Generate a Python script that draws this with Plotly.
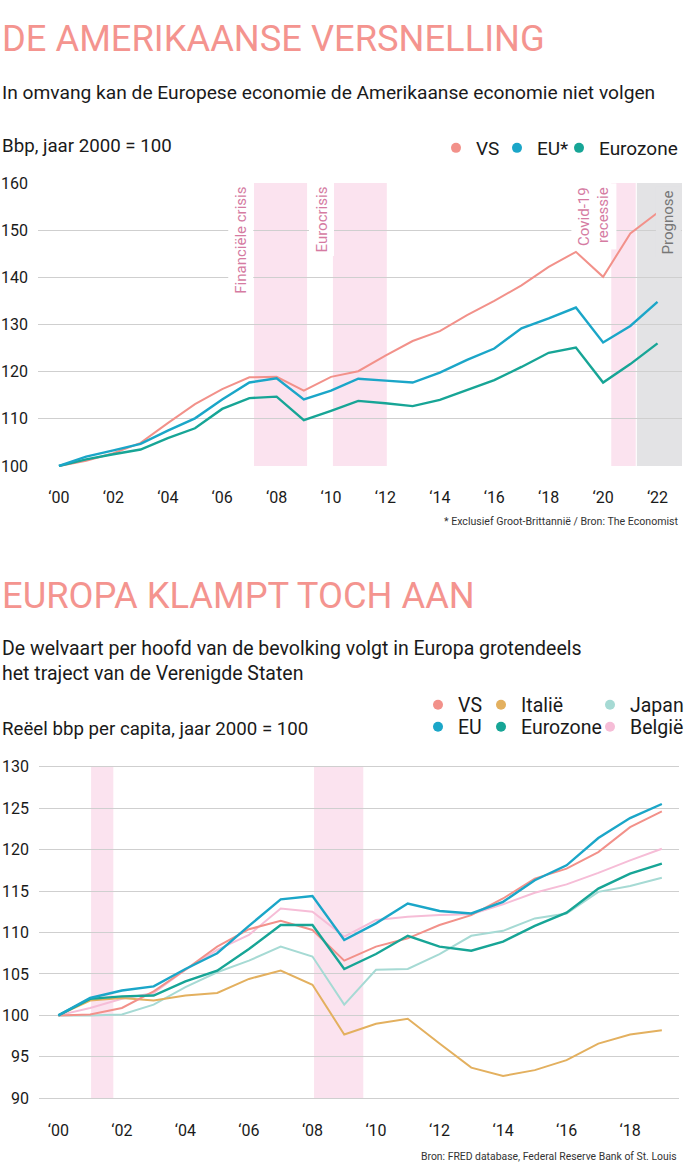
import plotly.graph_objects as go

W, H = 689, 1174

# ---------------- data: top chart ----------------
years_top = list(range(2000, 2023))
vs_top = [100, 101.1, 102.7, 104.9, 109.1, 113.1, 116.3, 118.8, 118.9, 116.0, 118.9,
          120.1, 123.4, 126.5, 128.6, 132.0, 135.0, 138.3, 142.2, 145.4, 140.1, 149.3, 153.7]
eu_top = [100, 102.0, 103.3, 104.7, 107.5, 110.1, 114.1, 117.7, 118.6, 114.1, 116.0,
          118.5, 118.1, 117.7, 119.8, 122.5, 124.9, 129.2, 131.3, 133.6, 126.2, 129.7, 134.8]
ez_top = [100, 101.4, 102.5, 103.5, 105.9, 108.0, 112.1, 114.4, 114.7, 109.7, 111.7,
          113.8, 113.3, 112.7, 114.0, 116.1, 118.2, 121.0, 124.0, 125.1, 117.7, 121.6, 126.0]
top_ticks = list(range(2000, 2023, 2))
top_ticktext = ["‘00", "‘02", "‘04", "‘06", "‘08", "‘10", "‘12", "‘14", "‘16", "‘18", "‘20", "‘22"]
top_bands = [(2007.17, 2009.12, "Financiële crisis"), (2010.07, 2012.05, "Eurocrisis"),
             (2020.3, 2021.2, "Covid-19<br>recessie")]
prognose_band = (2021.24, 2023.2)

# ---------------- data: bottom chart ----------------
years_bot = list(range(2000, 2020))
vs_bot = [100, 100.1, 100.9, 102.9, 105.5, 108.3, 110.4, 111.4, 110.3, 106.6,
          108.3, 109.3, 110.9, 112.1, 114.1, 116.5, 117.7, 119.7, 122.7, 124.6]
eu_bot = [100, 102.1, 103.0, 103.5, 105.6, 107.5, 110.8, 114.0, 114.4, 109.1,
          111.1, 113.5, 112.6, 112.3, 113.7, 116.3, 118.1, 121.4, 123.8, 125.5]
ez_bot = [100, 102.0, 102.3, 102.4, 104.1, 105.4, 108.0, 110.9, 110.9, 105.6,
          107.4, 109.6, 108.3, 107.8, 108.9, 110.8, 112.4, 115.3, 117.1, 118.3]
it_bot = [100, 101.8, 102.1, 101.8, 102.4, 102.7, 104.4, 105.4, 103.7, 97.7,
          99.0, 99.6, 96.6, 93.7, 92.7, 93.4, 94.6, 96.6, 97.7, 98.2]
jp_bot = [100, 100.0, 100.1, 101.3, 103.4, 105.2, 106.6, 108.3, 107.1, 101.3,
          105.5, 105.6, 107.4, 109.6, 110.2, 111.7, 112.3, 114.9, 115.6, 116.6]
be_bot = [100, 100.9, 102.0, 102.7, 105.5, 107.9, 109.7, 112.9, 112.5, 109.5,
          111.5, 111.9, 112.1, 112.2, 113.4, 114.8, 115.8, 117.2, 118.7, 120.1]
bot_ticks = list(range(2000, 2020, 2))
bot_ticktext = ["‘00", "‘02", "‘04", "‘06", "‘08", "‘10", "‘12", "‘14", "‘16", "‘18"]
bot_bands = [(2001.03, 2001.73), (2008.05, 2009.6)]

# ---------------- styling ----------------
C_VS = "#f2918a"
C_EU = "#1ba6c8"
C_EZ = "#17a596"
C_IT = "#e3b05f"
C_JP = "#a6dad4"
C_BE = "#f6bdd7"
C_BAND = "#fbe3ef"
C_GREY = "#e3e3e5"
C_TITLE = "#f4948f"
C_CRISIS = "#d57ba2"
C_GRID = "#cfcfcf"
FONT = "Roboto, sans-serif"


def px_x(x):
    return x / W


def px_y(y):
    return 1 - y / H


def domain_y(y_top_px, v_top, y_bot_px, v_bot, r0, r1):
    ppu = (y_bot_px - y_top_px) / (v_top - v_bot)
    top_px = y_top_px - (r1 - v_top) * ppu
    bot_px = y_bot_px + (v_bot - r0) * ppu
    return [px_y(bot_px), px_y(top_px)]


fig = go.Figure()

# top chart lines
for name, vals, col, w in [("VS", vs_top, C_VS, 2), ("Eurozone", ez_top, C_EZ, 2.4),
                           ("EU*", eu_top, C_EU, 2.4)]:
    fig.add_trace(go.Scatter(x=years_top, y=vals, mode="lines", line=dict(color=col, width=w),
                             showlegend=False, xaxis="x", yaxis="y", hoverinfo="skip"))

# bottom chart lines
for name, vals, col, w in [("België", be_bot, C_BE, 2), ("Japan", jp_bot, C_JP, 2),
                           ("Italië", it_bot, C_IT, 2), ("VS", vs_bot, C_VS, 2),
                           ("Eurozone", ez_bot, C_EZ, 2.4), ("EU", eu_bot, C_EU, 2.4)]:
    fig.add_trace(go.Scatter(x=years_bot, y=vals, mode="lines", line=dict(color=col, width=w),
                             showlegend=False, xaxis="x2", yaxis="y2", hoverinfo="skip"))


# legend entries (dots)
def legend_dot(name, col, legend, lw):
    fig.add_trace(go.Scatter(x=[None], y=[None], mode="markers", name=name,
                             marker=dict(color=col, size=10), legend=legend,
                             legendwidth=lw, xaxis="x", yaxis="y"))


legend_dot("VS", C_VS, "legend", 16)
legend_dot("EU*", C_EU, "legend", 17)
legend_dot("Eurozone", C_EZ, "legend", 80)
legend_dot("VS", C_VS, "legend2", 18)
legend_dot("Italië", C_IT, "legend2", 64)
legend_dot("Japan", C_JP, "legend2", 60)
legend_dot("EU", C_EU, "legend3", 18)
legend_dot("Eurozone", C_EZ, "legend3", 64)
legend_dot("België", C_BE, "legend3", 60)

shapes = []
for x0, x1, _ in top_bands:
    shapes.append(dict(type="rect", xref="x", yref="y", x0=x0, x1=x1, y0=100, y1=160,
                       fillcolor=C_BAND, line=dict(width=0), layer="below"))
shapes.append(dict(type="rect", xref="x", yref="y", x0=prognose_band[0], x1=prognose_band[1],
                   y0=100, y1=160, fillcolor=C_GREY, line=dict(width=0), layer="below"))
for x0, x1 in bot_bands:
    shapes.append(dict(type="rect", xref="x2", yref="y2", x0=x0, x1=x1, y0=90, y1=130,
                       fillcolor=C_BAND, line=dict(width=0), layer="below"))

annotations = []


def text(t, x, y, size, color="#1a1a1a", xanchor="left", **kw):
    annotations.append(dict(text=t, x=px_x(x), y=px_y(y), xref="paper", yref="paper",
                            xanchor=xanchor, yanchor="middle", showarrow=False,
                            font=dict(family=FONT, size=size, color=color), **kw))


text("DE AMERIKAANSE VERSNELLING", 0, 38, 36.3, C_TITLE)
text("In omvang kan de Europese economie de Amerikaanse economie niet volgen", 0, 92, 19.2)
text("Bbp, jaar 2000 = 100", 0, 146, 18.7)
text("* Exclusief Groot-Brittannië / Bron: The Economist", 681, 521, 10.6, "#333", xanchor="right")

text("EUROPA KLAMPT TOCH AAN", 0, 596, 36.3, C_TITLE)
text("De welvaart per hoofd van de bevolking volgt in Europa grotendeels<br>het traject van de Verenigde Staten",
     0, 661, 19.5, align="left")
text("Reëel bbp per capita, jaar 2000 = 100", 0, 729, 18.7)
text("Bron: FRED database, Federal Reserve Bank of St. Louis", 679, 1156, 10.4, "#333", xanchor="right")


# rotated crisis labels (top chart)
def vlabel(t, x_data, y_top_px, color, bg):
    annotations.append(dict(text=t, x=x_data, xref="x", y=px_y(y_top_px), yref="paper",
                            xanchor="center", yanchor="top", textangle=-90, showarrow=False,
                            align="right", bgcolor=bg, borderpad=3,
                            font=dict(family=FONT, size=15, color=color)))


vlabel(top_bands[0][2], 2006.7, 183, C_CRISIS, "white")
vlabel(top_bands[1][2], 2009.65, 183, C_CRISIS, "white")
vlabel(top_bands[2][2], 2019.68, 183, C_CRISIS, "white")
vlabel("Prognose", 2022.4, 186, "#777777", C_GREY)

yr_top = [99.8, 160.2]
yr_bot = [89.85, 130.15]

axis_font = dict(family=FONT, size=16, color="#1a1a1a")
leg_font = dict(family=FONT, size=19.5, color="#1a1a1a")
leg_font_top = dict(family=FONT, size=19, color="#1a1a1a")

fig.update_layout(
    width=W, height=H, margin=dict(l=0, r=0, t=0, b=0, autoexpand=False),
    paper_bgcolor="white", plot_bgcolor="white",
    xaxis=dict(domain=[px_x(38), px_x(682)], range=[1999.23, 2022.9], showgrid=False,
               zeroline=False, showline=False, tickvals=top_ticks, ticktext=top_ticktext,
               ticks="", tickfont=axis_font, ticklabelstandoff=19, anchor="y", automargin=False),
    yaxis=dict(domain=domain_y(183, 160, 466, 100, *yr_top), range=yr_top,
               tickvals=list(range(100, 161, 10)), showgrid=True, gridcolor=C_GRID, gridwidth=1,
               zeroline=False, showline=False, ticks="", tickfont=axis_font,
               ticklabelstandoff=9, anchor="x", automargin=False),
    xaxis2=dict(domain=[px_x(39), px_x(679)], range=[1999.39, 2019.54], showgrid=False,
                zeroline=False, showline=False, tickvals=bot_ticks, ticktext=bot_ticktext,
                ticks="", tickfont=axis_font, ticklabelstandoff=19, anchor="y2", automargin=False),
    yaxis2=dict(domain=domain_y(766.7, 130, 1098.3, 90, *yr_bot), range=yr_bot,
                tickvals=list(range(90, 131, 5)), showgrid=True, gridcolor=C_GRID, gridwidth=1,
                zeroline=False, showline=False, ticks="", tickfont=axis_font,
                ticklabelstandoff=9, anchor="x2", automargin=False),
    legend=dict(orientation="h", x=px_x(436), y=px_y(148), xanchor="left", yanchor="middle",
                font=leg_font_top, bgcolor="rgba(0,0,0,0)",
                entrywidthmode="pixels", tracegroupgap=0, itemwidth=30),
    legend2=dict(orientation="h", x=px_x(418), y=px_y(705), xanchor="left", yanchor="middle",
                 font=leg_font, bgcolor="rgba(0,0,0,0)",
                 entrywidthmode="pixels", itemwidth=30),
    legend3=dict(orientation="h", x=px_x(418), y=px_y(727), xanchor="left", yanchor="middle",
                 font=leg_font, bgcolor="rgba(0,0,0,0)",
                 entrywidthmode="pixels", itemwidth=30),
    shapes=shapes, annotations=annotations,
)

fig.write_html("out.html", config={"displayModeBar": False},
               post_script="document.body.style.margin='0';")
